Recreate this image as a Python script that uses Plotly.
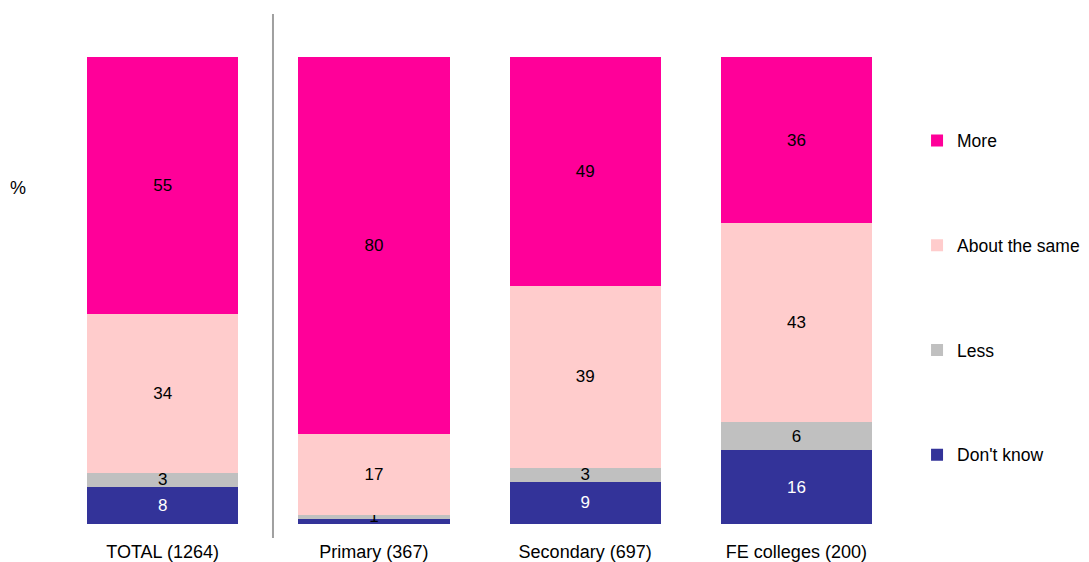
import plotly.graph_objects as go

categories = ["TOTAL (1264)", "Primary (367)", "Secondary (697)", "FE colleges (200)"]
dont_know = [8, 1, 9, 16]
less = [3, 1, 3, 6]
about_same = [34, 17, 39, 43]
more = [55, 80, 49, 36]

dont_know_labels = ["8", "", "9", "16"]
less_labels = ["3", "1", "3", "6"]

series = [
    ("Don't know", dont_know, dont_know_labels, "#333399", "white", 4),
    ("Less", less, less_labels, "#C0C0C0", "black", 3),
    ("About the same", about_same, [str(v) for v in about_same], "#FFCCCC", "black", 2),
    ("More", more, [str(v) for v in more], "#FF0099", "black", 1),
]

FONT = "Liberation Sans, Arial, sans-serif"
W, H = 1081, 554  # page body has an 8px margin in the browser

fig = go.Figure()
for name, vals, labels, color, tcolor, rank in series:
    fig.add_trace(go.Bar(
        name=name, x=categories, y=vals, text=labels,
        marker=dict(color=color, line=dict(width=0)),
        textposition="inside", insidetextanchor="middle", textangle=0,
        constraintext="none",
        textfont=dict(family=FONT, size=17, color=tcolor),
        legendgroup=name, legendrank=rank,
    ))

fig.update_layout(
    width=W, height=H,
    barmode="stack", barnorm="percent", bargap=0.284,
    plot_bgcolor="white", paper_bgcolor="white",
    margin=dict(l=49, r=187, t=49, b=38, autoexpand=False),
    font=dict(family=FONT, size=18, color="black"),
    showlegend=True,
    legend=dict(
        x=1.0178, xanchor="left", y=0.8597, yanchor="top",
        traceorder="grouped", tracegroupgap=79,
        font=dict(family=FONT, size=17.5, color="black"),
        bgcolor="rgba(0,0,0,0)",
    ),
    xaxis=dict(showline=False, showgrid=False, zeroline=False, ticks="",
               automargin=False,
               tickfont=dict(family=FONT, size=18, color="black"),
               ticklabelstandoff=15),
    yaxis=dict(range=[0, 100], visible=False, fixedrange=True, automargin=False),
    shapes=[dict(type="line", xref="paper", yref="paper",
                 x0=0.2556, x1=0.2556, y0=-0.030, y1=1.092,
                 line=dict(color="#A0A0A0", width=2))],
    annotations=[dict(text="%", xref="paper", yref="paper",
                      x=-0.046, y=0.7195, xanchor="center", yanchor="middle",
                      showarrow=False,
                      font=dict(family=FONT, size=18, color="black"))],
)

fig.write_html("out.html")
